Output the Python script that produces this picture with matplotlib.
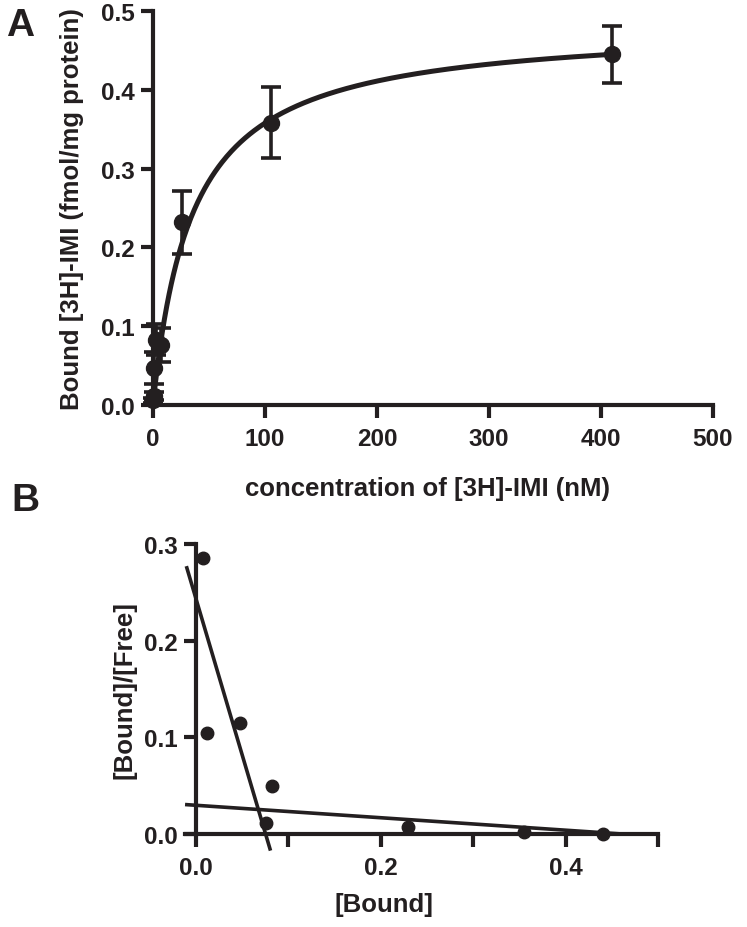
import numpy as np
import matplotlib
matplotlib.use("Agg")
import matplotlib.pyplot as plt

plt.rcParams['font.family'] = ['Liberation Sans', 'DejaVu Sans']
plt.rcParams['font.weight'] = 'bold'

INK = '#231f20'

# ---- Panel A data: saturation binding ----
conc_nM = [0.1, 0.5, 1.2, 2.5, 7.0, 26.0, 105.0, 410.0]
bound_A = [0.006, 0.011, 0.047, 0.083, 0.076, 0.232, 0.358, 0.445]
err_A = [0.003, 0.005, 0.020, 0.020, 0.022, 0.040, 0.045, 0.036]
bmax_fit = 0.483
kd_fit = 35.0
x_ticks_A = [0, 100, 200, 300, 400, 500]
y_ticks_A = [0.0, 0.1, 0.2, 0.3, 0.4, 0.5]

# ---- Panel B data: Scatchard ----
bound_B = [0.0075, 0.012, 0.047, 0.082, 0.076, 0.229, 0.355, 0.440]
ratio_B = [0.286, 0.105, 0.115, 0.050, 0.011, 0.007, 0.002, 0.000]
steep_slope, steep_icpt = -3.23, 0.243
steep_range = [-0.010, 0.080]
shallow_slope, shallow_icpt = -0.0644, 0.0297
shallow_range = [-0.010, 0.462]
x_ticks_B = [0.0, 0.1, 0.2, 0.3, 0.4, 0.5]
x_ticklabels_B = ['0.0', '', '0.2', '', '0.4', '']
y_ticks_B = [0.0, 0.1, 0.2, 0.3]

W, H = 747, 928
fig = plt.figure(figsize=(W / 100, H / 100), dpi=100)

FS = 17.5
LFS = 18.5


def px_axes(left, right, top, bottom):
    return fig.add_axes([left / W, 1 - bottom / H, (right - left) / W, (bottom - top) / H])


def style(ax):
    for s in ['top', 'right']:
        ax.spines[s].set_visible(False)
    for s in ['left', 'bottom']:
        ax.spines[s].set_linewidth(3.0)
        ax.spines[s].set_color(INK)
    ax.tick_params(direction='out', length=9, width=3.0, color=INK,
                   labelsize=FS, labelcolor=INK)
    ax.tick_params(axis='x', pad=7)
    ax.tick_params(axis='y', pad=4)
    for lab in ax.get_xticklabels() + ax.get_yticklabels():
        lab.set_fontweight('bold')


# Panel A
axA = px_axes(153, 713, 12, 406)
xs = np.linspace(0, conc_nM[-1], 400)
axA.plot(xs, bmax_fit * xs / (kd_fit + xs), color=INK, lw=3.6, clip_on=False, zorder=3)
axA.errorbar(conc_nM, bound_A, yerr=err_A, fmt='o', color=INK, ms=11.5,
             elinewidth=2.6, capsize=7.5, capthick=2.6, clip_on=False, zorder=4)
axA.set_xlim(0, 500)
axA.set_ylim(0, 0.5)
axA.set_xticks(x_ticks_A)
axA.set_yticks(y_ticks_A)
axA.set_yticklabels([f'{v:.1f}' for v in y_ticks_A])
style(axA)
axA.set_xlabel('concentration of [3H]-IMI (nM)', fontsize=LFS, fontweight='bold', color=INK)
axA.xaxis.set_label_coords(0.49, -0.18)
axA.set_ylabel('Bound [3H]-IMI (fmol/mg protein)', fontsize=LFS, fontweight='bold', color=INK)
axA.yaxis.set_label_coords(-0.123, 0.5)
fig.text(6 / W, 1 - 26 / H, 'A', fontsize=28, fontweight='bold', color=INK, va='center')

# Panel B
axB = px_axes(185, 658, 545, 835)
axB.set_xlim(-0.012, 0.5)
axB.set_ylim(0, 0.3)
axB.spines['left'].set_position(('data', 0.0))
sx = np.array(steep_range)
axB.plot(sx, steep_icpt + steep_slope * sx, color=INK, lw=2.6, clip_on=False, zorder=3)
hx = np.array(shallow_range)
axB.plot(hx, shallow_icpt + shallow_slope * hx, color=INK, lw=2.6, clip_on=False, zorder=3)
axB.plot(bound_B, ratio_B, 'o', color=INK, ms=9, clip_on=False, zorder=4)
axB.set_xticks(x_ticks_B)
axB.set_xticklabels(x_ticklabels_B)
axB.set_yticks(y_ticks_B)
axB.set_yticklabels([f'{v:.1f}' for v in y_ticks_B])
style(axB)
axB.set_xlabel('[Bound]', fontsize=LFS, fontweight='bold', color=INK)
axB.xaxis.set_label_coords(0.42, -0.2)
axB.set_ylabel('[Bound]/[Free]', fontsize=LFS, fontweight='bold', color=INK)
axB.yaxis.set_label_coords(-0.102, 0.5)
fig.text(11 / W, 1 - 501 / H, 'B', fontsize=28, fontweight='bold', color=INK, va='center')

fig.savefig('out.png', dpi=100)
